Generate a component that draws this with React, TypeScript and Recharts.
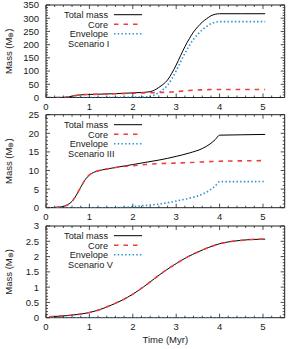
import React from 'react';
import { LineChart, Line, XAxis, YAxis, ReferenceArea, Legend } from 'recharts';

const FONT = '"Liberation Sans", Arial, Helvetica, sans-serif';
const FS = 9.5;
const LFS = 9.2;
const TEXT = '#1a1a1a';
const AXIS = '#222';

const seriesNames = ['Total mass', 'Core', 'Envelope'];
const seriesColors = ['#000000', '#f03c3c', '#2f95d8'];
const scenarioNames = ['Scenario I', 'Scenario III', 'Scenario V'];

const xMajor = [0, 1, 2, 3, 4, 5];
const xTicks = [0, 0.2, 0.4, 0.6, 0.8, 1, 1.2, 1.4, 1.6, 1.8, 2, 2.2, 2.4, 2.6, 2.8, 3, 3.2, 3.4, 3.6, 3.8, 4, 4.2, 4.4, 4.6, 4.8, 5, 5.2, 5.4];

// Scenario I
const timeI = [0, 0.2, 0.4, 0.5, 0.6, 0.7, 0.8, 1.0, 1.2, 1.5, 1.8, 2.0, 2.2, 2.4, 2.5, 2.6, 2.7, 2.8, 2.9, 3.0, 3.1, 3.2, 3.3, 3.4, 3.5, 3.6, 3.7, 3.8, 3.9, 4.0, 4.5, 5.05];
const totalI = [0, 0, 0.5, 2, 5, 8, 10, 11.5, 12.5, 14, 16, 17.5, 19, 22, 28, 38, 50, 66, 92, 123, 158, 192, 222, 248, 268, 285, 298, 309, 315, 317, 317, 317];
const coreI = [0, 0, 0.5, 2, 5, 8, 10, 11.5, 12.5, 13.5, 15, 16, 17, 18, 18.5, 19, 19.5, 20, 21, 22, 23.5, 25, 26.5, 27.5, 28.5, 29, 29.5, 30, 30, 30, 30, 30];
const envI = [0, 0, 0, 0, 0, 0, 0, 0, 0, 0.5, 1, 1.5, 2, 4, 9.5, 19, 30.5, 46, 71, 101, 134.5, 167, 195.5, 220.5, 239.5, 256, 268.5, 279, 285, 287, 287, 287];
const yMajorI = [0, 50, 100, 150, 200, 250, 300, 350];
const yTicksI = [0, 10, 20, 30, 40, 50, 60, 70, 80, 90, 100, 110, 120, 130, 140, 150, 160, 170, 180, 190, 200, 210, 220, 230, 240, 250, 260, 270, 280, 290, 300, 310, 320, 330, 340, 350];

// Scenario III
const timeIII = [0, 0.2, 0.3, 0.4, 0.5, 0.6, 0.7, 0.8, 0.9, 1.0, 1.1, 1.2, 1.4, 1.6, 1.8, 2.0, 2.3, 2.6, 3.0, 3.3, 3.6, 3.8, 3.9, 4.0, 4.5, 5.05];
const totalIII = [0, 0.05, 0.15, 0.35, 0.8, 1.7, 3.4, 5.5, 7.5, 8.8, 9.5, 9.9, 10.4, 10.8, 11.2, 11.6, 12.2, 12.8, 13.8, 14.7, 15.9, 17.3, 18.3, 19.5, 19.6, 19.7];
const coreIII = [0, 0.05, 0.15, 0.35, 0.8, 1.7, 3.4, 5.5, 7.5, 8.8, 9.5, 9.9, 10.4, 10.8, 11.1, 11.3, 11.6, 11.85, 12.0, 12.15, 12.3, 12.4, 12.45, 12.5, 12.6, 12.65];
const envIII = [0, 0, 0, 0, 0, 0, 0, 0, 0, 0, 0, 0, 0, 0, 0.1, 0.3, 0.6, 0.95, 1.8, 2.55, 3.6, 4.9, 5.85, 7.0, 7.0, 7.05];
const yMajorIII = [0, 5, 10, 15, 20, 25];
const yTicksIII = [0, 1, 2, 3, 4, 5, 6, 7, 8, 9, 10, 11, 12, 13, 14, 15, 16, 17, 18, 19, 20, 21, 22, 23, 24, 25];

// Scenario V
const timeV = [0.08, 0.3, 0.5, 0.75, 1.0, 1.25, 1.5, 1.75, 2.0, 2.25, 2.5, 2.75, 3.0, 3.25, 3.5, 3.75, 4.0, 4.25, 4.5, 4.75, 5.05];
const totalV = [0.03, 0.05, 0.07, 0.11, 0.17, 0.27, 0.41, 0.57, 0.77, 1.01, 1.28, 1.54, 1.77, 1.98, 2.15, 2.3, 2.42, 2.49, 2.53, 2.56, 2.57];
const coreV = [0.03, 0.05, 0.07, 0.11, 0.17, 0.27, 0.41, 0.57, 0.77, 1.01, 1.28, 1.54, 1.77, 1.98, 2.15, 2.3, 2.42, 2.49, 2.53, 2.56, 2.57];
const envV = [0, 0, 0, 0, 0, 0, 0, 0, 0, 0, 0, 0, 0, 0, 0, 0, 0, 0, 0, 0, 0];
const yMajorV = [0, 0.5, 1, 1.5, 2, 2.5, 3];
const yTicksV = [0, 0.1, 0.2, 0.3, 0.4, 0.5, 0.6, 0.7, 0.8, 0.9, 1, 1.1, 1.2, 1.3, 1.4, 1.5, 1.6, 1.7, 1.8, 1.9, 2, 2.1, 2.2, 2.3, 2.4, 2.5, 2.6, 2.7, 2.8, 2.9, 3];

const build = (t: number[], a: number[], b: number[], c: number[]) =>
  t.map((x, i) => ({ t: x, total: a[i], core: b[i], env: c[i] }));

const isIn = (v: number, arr: number[]) => arr.some((m) => Math.abs(m - v) < 1e-6);

const CHART_W = 299;
const PLOT_LEFT = 46;
const RIGHT_M = 14.3;
const PLOT_W = CHART_W - PLOT_LEFT - RIGHT_M;

const XTick = (props: any) => {
  const { x, y, payload, plotH } = props;
  const v = payload.value;
  const major = isIn(v, xMajor);
  const len = major ? 4 : 2;
  return (
    <g>
      <line x1={x} x2={x} y1={y} y2={y - len} stroke={AXIS} strokeWidth={0.8} />
      <line x1={x} x2={x} y1={y - plotH} y2={y - plotH + len} stroke={AXIS} strokeWidth={0.8} />
      {major && (
        <text x={x} y={y + 12.5} textAnchor="middle" fontFamily={FONT} fontSize={FS} fill={TEXT}>
          {String(v)}
        </text>
      )}
    </g>
  );
};

const YTick = (props: any) => {
  const { x, y, payload, majors } = props;
  const v = payload.value;
  const major = isIn(v, majors);
  const len = major ? 4 : 2;
  return (
    <g>
      <line x1={x} x2={x + len} y1={y} y2={y} stroke={AXIS} strokeWidth={0.8} />
      <line x1={x + PLOT_W} x2={x + PLOT_W - len} y1={y} y2={y} stroke={AXIS} strokeWidth={0.8} />
      {major && (
        <text x={x - 7} y={y + 3.4} textAnchor="end" fontFamily={FONT} fontSize={FS} fill={TEXT}>
          {String(v)}
        </text>
      )}
    </g>
  );
};

const MassLabel = (props: any) => {
  const vb = props.viewBox || { x: 0, y: 0, width: 46, height: 92 };
  const cx = vb.x + 8;
  const cy = vb.y + vb.height / 2;
  return (
    <text
      x={cx}
      y={cy}
      textAnchor="middle"
      dominantBaseline="central"
      transform={`rotate(-90, ${cx}, ${cy})`}
      fontFamily={FONT}
      fontSize={FS}
      fill={TEXT}
    >
      <tspan>Mass (M</tspan>
      <tspan fontSize={7} dy={2}>⊕</tspan>
      <tspan dy={-2}>)</tspan>
    </text>
  );
};

const TimeLabel = (props: any) => {
  const vb = props.viewBox || { x: PLOT_LEFT, y: 0, width: PLOT_W, height: 30 };
  return (
    <text x={vb.x + vb.width / 2} y={vb.y + 25.5} textAnchor="middle" fontFamily={FONT} fontSize={FS} fill={TEXT}>
      Time (Myr)
    </text>
  );
};

const legendRows = [9.7, 19.2, 28.8];
const LegendBox = ({ scenario }: { scenario: string }) => (
  <svg width={CHART_W} height={50} style={{ display: 'block' }}>
    {seriesNames.map((n, i) => (
      <g key={n}>
        <text x={108} y={legendRows[i] + 3.3} textAnchor="end" fontFamily={FONT} fontSize={LFS} fill={TEXT}>
          {n}
        </text>
        <line
          x1={114}
          x2={142}
          y1={legendRows[i]}
          y2={legendRows[i]}
          stroke={seriesColors[i]}
          strokeWidth={i === 0 ? 1 : 1.6}
          strokeDasharray={i === 1 ? '4.5 5' : i === 2 ? '1.5 2.2' : undefined}
        />
      </g>
    ))}
    <text x={68} y={38.4 + 3.3} textAnchor="start" fontFamily={FONT} fontSize={LFS} fill={TEXT}>
      {scenario}
    </text>
  </svg>
);

type PanelProps = {
  top: number;
  height: number;
  plotTop: number;
  plotBottom: number;
  yMax: number;
  yMajor: number[];
  yTicks: number[];
  data: any[];
  scenario: string;
  xLabel?: boolean;
};

const Panel = ({ top, height, plotTop, plotBottom, yMax, yMajor, yTicks, data, scenario, xLabel }: PanelProps) => {
  const plotH = plotBottom - plotTop;
  const mTop = plotTop - top;
  const xAxisH = height - (plotBottom - top);
  return (
    <div style={{ position: 'absolute', left: 0, top, width: CHART_W, height }}>
      <LineChart width={CHART_W} height={height} data={data} margin={{ top: mTop, right: RIGHT_M, bottom: 0, left: 0 }}>
        <XAxis
          dataKey="t"
          type="number"
          domain={[0, 5.5]}
          ticks={xTicks}
          interval={0}
          allowDataOverflow
          axisLine={false}
          tickLine={false}
          tickSize={0}
          tickMargin={0}
          height={xAxisH}
          tick={(p: any) => <XTick {...p} plotH={plotH} />}
          label={xLabel ? <TimeLabel /> : undefined}
        />
        <YAxis
          type="number"
          domain={[0, yMax]}
          ticks={yTicks}
          interval={0}
          allowDataOverflow
          axisLine={false}
          tickLine={false}
          tickSize={0}
          tickMargin={0}
          width={PLOT_LEFT}
          tick={(p: any) => <YTick {...p} majors={yMajor} />}
          label={<MassLabel />}
        />
        <ReferenceArea x1={0} x2={5.5} y1={0} y2={yMax} stroke={AXIS} strokeWidth={1} fill="none" fillOpacity={0} />
        <Legend
          layout="horizontal"
          verticalAlign="middle"
          align="center"
          wrapperStyle={{ position: 'absolute', left: 0, top: mTop, width: CHART_W, height: 50 }}
          content={() => <LegendBox scenario={scenario} />}
        />
        <Line dataKey="total" name={seriesNames[0]} type="monotone" stroke={seriesColors[0]} strokeWidth={1} dot={false} activeDot={false} isAnimationActive={false} />
        <Line dataKey="core" name={seriesNames[1]} type="monotone" stroke={seriesColors[1]} strokeWidth={1.6} strokeDasharray="4.5 5" dot={false} activeDot={false} isAnimationActive={false} />
        <Line dataKey="env" name={seriesNames[2]} type="monotone" stroke={seriesColors[2]} strokeWidth={1.6} strokeDasharray="1.5 2.2" dot={false} activeDot={false} isAnimationActive={false} />
      </LineChart>
    </div>
  );
};

export default function App() {
  return (
    <div style={{ position: 'absolute', left: 0, top: 0, width: 299, height: 349, background: '#fff' }}>
      <Panel top={0} height={112} plotTop={5} plotBottom={97.5} yMax={350} yMajor={yMajorI} yTicks={yTicksI} data={build(timeI, totalI, coreI, envI)} scenario={scenarioNames[0]} />
      <Panel top={108} height={114} plotTop={114.7} plotBottom={207.7} yMax={25} yMajor={yMajorIII} yTicks={yTicksIII} data={build(timeIII, totalIII, coreIII, envIII)} scenario={scenarioNames[1]} />
      <Panel top={216} height={133} plotTop={226} plotBottom={317.7} yMax={3} yMajor={yMajorV} yTicks={yTicksV} data={build(timeV, totalV, coreV, envV)} scenario={scenarioNames[2]} xLabel />
    </div>
  );
}
